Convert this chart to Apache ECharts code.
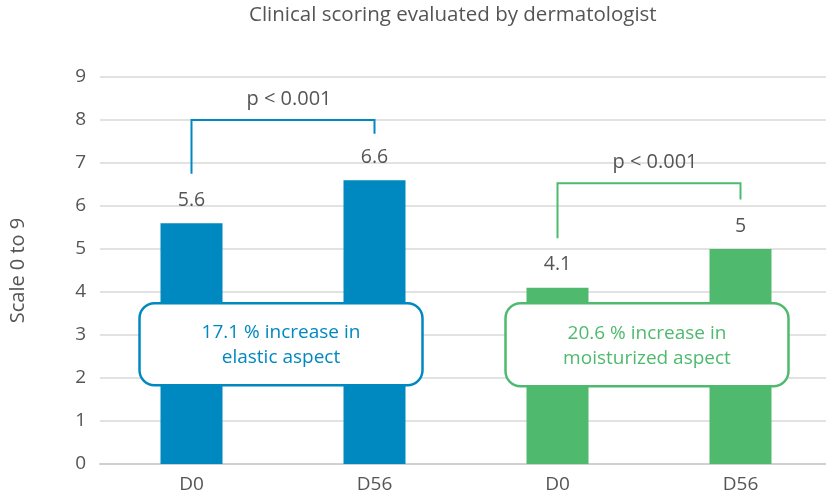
<!DOCTYPE html>
<html lang="en">
<head>
  <meta charset="UTF-8">
  <title>Clinical scoring evaluated by dermatologist</title>
  <script src="https://cdn.jsdelivr.net/npm/echarts@6/dist/echarts.min.js"></script>
  <style>
    html, body, #chart { width: 100%; height: 100%; margin: 0; padding: 0; background: #fff; }
  </style>
</head>
<body>
  <div id="chart"></div>
  <script>
    // chart values
    const categories = ['D0', 'D56', 'D0', 'D56'];
    const scores = [5.6, 6.6, 4.1, 5];
    const groupOf = [0, 0, 1, 1];

    // significance brackets: category index range, top level, end levels
    const bracketFrom = [0, 2];
    const bracketTo = [1, 3];
    const bracketTop = [8.0, 6.53];
    const bracketLeftEnd = [6.75, 5.25];
    const bracketRightEnd = [7.68, 6.15];
    const bracketText = ['p < 0.001', 'p < 0.001'];

    // callout boxes
    const boxFrom = [0, 2];
    const boxTo = [1, 3];
    const boxLow = [1.83, 1.81];
    const boxHigh = [3.74, 3.74];
    const boxText = ['17.1 % increase in\nelastic aspect', '20.6 % increase in\nmoisturized aspect'];

    const groupColors = ['#0088c1', '#4fba6e'];
    const FONT = '"Open Sans", Lato, sans-serif';
    const GREY = '#555';

    const chart = echarts.init(document.getElementById('chart'));

    chart.setOption({
      animation: false,
      textStyle: { fontFamily: FONT },
      title: {
        text: 'Clinical scoring evaluated by dermatologist',
        left: 244,
        top: 0,
        textStyle: { fontFamily: FONT, fontSize: 20.5, fontWeight: 'normal', color: GREY }
      },
      grid: { left: 100, right: -6, top: 77, bottom: 35, outerBoundsMode: 'none', containLabel: false },
      xAxis: {
        type: 'category',
        data: categories,
        axisTick: { show: false },
        axisLine: { lineStyle: { color: '#d0d0d0', width: 2 } },
        axisLabel: { color: GREY, fontSize: 19, margin: 11, fontFamily: FONT }
      },
      yAxis: {
        type: 'value',
        min: 0,
        max: 9,
        interval: 1,
        name: 'Scale 0 to 9',
        nameLocation: 'middle',
        nameGap: 72,
        nameTextStyle: { color: GREY, fontSize: 20, fontFamily: FONT },
        axisLabel: { color: GREY, fontSize: 19, margin: 14, fontFamily: FONT },
        splitLine: { lineStyle: { color: '#d9d9d9', width: 1.5 } },
        axisLine: { show: false },
        axisTick: { show: false }
      },
      series: [
        {
          type: 'bar',
          barWidth: 62,
          data: scores.map((v, i) => ({
            value: v,
            itemStyle: { color: groupColors[groupOf[i]] }
          })),
          label: {
            show: true,
            position: 'top',
            distance: 13,
            color: GREY,
            fontSize: 19.5,
            fontFamily: FONT
          }
        },
        {
          type: 'custom',
          z: 5,
          data: bracketFrom.map((f, i) => [f, bracketTo[i], bracketTop[i], bracketLeftEnd[i], bracketRightEnd[i]]),
          encode: { x: [0, 1], y: [2, 3, 4] },
          renderItem: function (params, api) {
            const i = params.dataIndex;
            const color = groupColors[groupOf[bracketFrom[i]]];
            const a = api.coord([api.value(0), api.value(3)]);
            const b = api.coord([api.value(0), api.value(2)]);
            const c = api.coord([api.value(1), api.value(2)]);
            const d = api.coord([api.value(1), api.value(4)]);
            return {
              type: 'group',
              children: [
                {
                  type: 'polyline',
                  shape: { points: [a, b, c, d] },
                  style: { stroke: color, lineWidth: 2, fill: null }
                },
                {
                  type: 'text',
                  style: {
                    text: bracketText[i],
                    x: (b[0] + c[0]) / 2 + 6,
                    y: b[1] - 21,
                    align: 'center',
                    verticalAlign: 'middle',
                    fill: GREY,
                    font: '20px ' + FONT
                  }
                }
              ]
            };
          }
        },
        {
          type: 'custom',
          z: 6,
          data: boxFrom.map((f, i) => [f, boxTo[i], boxLow[i], boxHigh[i]]),
          encode: { x: [0, 1], y: [2, 3] },
          renderItem: function (params, api) {
            const i = params.dataIndex;
            const color = groupColors[groupOf[boxFrom[i]]];
            const lo = api.coord([api.value(0), api.value(2)]);
            const hi = api.coord([api.value(1), api.value(3)]);
            const x0 = lo[0] - 52;
            const x1 = hi[0] + 48;
            const y0 = hi[1];
            const y1 = lo[1];
            return {
              type: 'group',
              children: [
                {
                  type: 'rect',
                  shape: { x: x0, y: y0, width: x1 - x0, height: y1 - y0, r: 15 },
                  style: { fill: '#fff', stroke: color, lineWidth: 2.5 }
                },
                {
                  type: 'text',
                  style: {
                    text: boxText[i],
                    x: (x0 + x1) / 2,
                    y: (y0 + y1) / 2 + 1,
                    align: 'center',
                    verticalAlign: 'middle',
                    lineHeight: 25,
                    fill: color,
                    font: '19px ' + FONT
                  }
                }
              ]
            };
          }
        }
      ]
    });
  </script>
</body>
</html>
